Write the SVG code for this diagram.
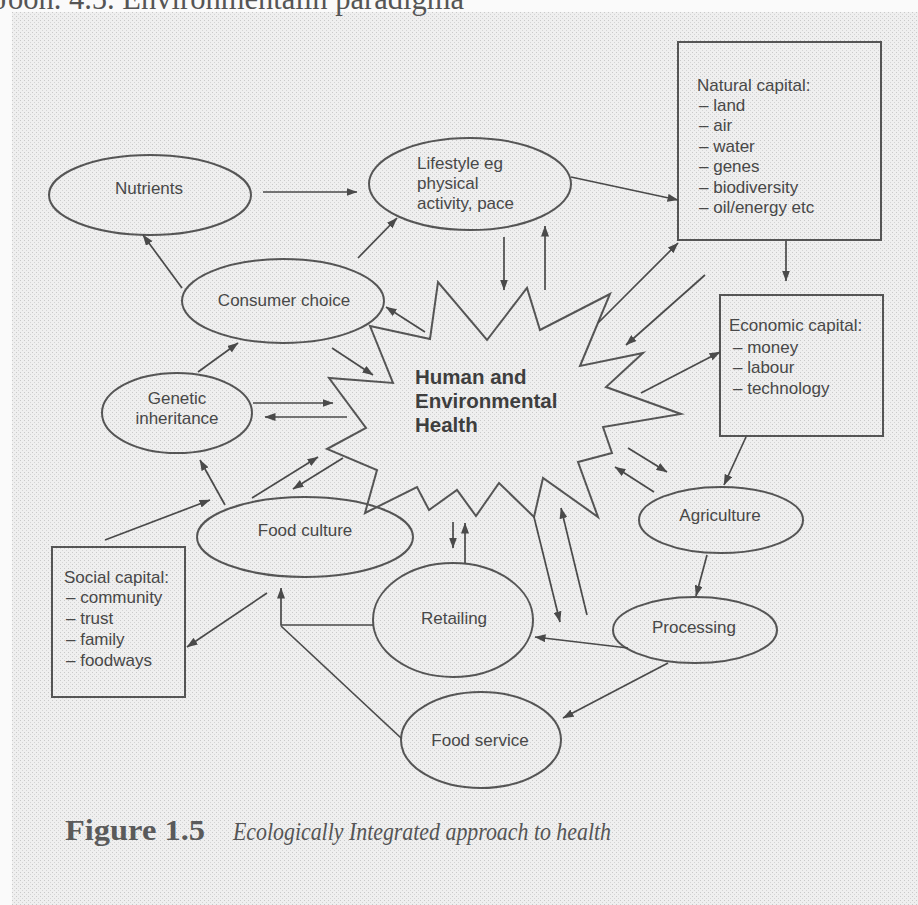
<svg xmlns="http://www.w3.org/2000/svg" width="918" height="905" viewBox="0 0 918 905">
  <defs>
    <pattern id="halftone" width="4" height="4" patternUnits="userSpaceOnUse">
      <rect width="4" height="4" fill="#efefef"/>
      <rect x="0" y="0" width="1" height="1" fill="#c9c9c9"/>
      <rect x="2" y="2" width="1" height="1" fill="#d4d4d4"/>
    </pattern>
    <marker id="ah" viewBox="0 0 11 8" refX="10.5" refY="4" markerWidth="11" markerHeight="8" markerUnits="userSpaceOnUse" orient="auto">
      <path d="M0,0 L11,4 L0,8 Z" fill="#4a4a4a"/>
    </marker>
    <style>
      .node { fill: none; stroke: #555; stroke-width: 2; }
      .lbl { font-family: "Liberation Sans", Arial, sans-serif; font-size: 17px; fill: #484848; }
      .mid { text-anchor: middle; }
      .big { font-family: "Liberation Sans", Arial, sans-serif; font-size: 20.5px; font-weight: bold; fill: #3e3e3e; }
      .con line, .con polyline { stroke: #4a4a4a; stroke-width: 1.7; fill: none; }
      .arr { marker-end: url(#ah); }
      .cap { font-family: "Liberation Serif", "Times New Roman", serif; fill: #555; }
    </style>
  </defs>

  <!-- page -->
  <rect width="918" height="905" fill="#fafafa"/>
  <rect x="12" y="12" width="906" height="893" fill="url(#halftone)"/>

  <!-- running head, cut off at the top edge -->
  <text class="cap" x="-4" y="9" font-size="32" textLength="468" lengthAdjust="spacingAndGlyphs" fill="#555">Joon. 4.5. Environmentalin paradigma</text>

  <!-- central starburst -->
  <g id="health">
    <polygon class="node" stroke-linejoin="miter" points="370,326 430,339 438,282 487,340 527,288 540,330 610,294 580,366 643,353 606,387 681,414 603,427 612,453 578,462 598,517 543,478 534,517 499,483 476,516 457,490 429,510 417,487 365,513 377,470 327,449 366,428 329,378 393,383"/>
    <text class="big" x="415" y="384">Human and</text>
    <text class="big" x="415" y="408">Environmental</text>
    <text class="big" x="415" y="432">Health</text>
  </g>

  <g id="nutrients">
    <ellipse class="node" cx="150" cy="195" rx="101" ry="40"/>
    <text class="lbl mid" x="149" y="194">Nutrients</text>
  </g>

  <g id="lifestyle">
    <ellipse class="node" cx="470" cy="184" rx="101" ry="46"/>
    <text class="lbl" x="417" y="169">Lifestyle eg</text>
    <text class="lbl" x="417" y="189">physical</text>
    <text class="lbl" x="417" y="209">activity, pace</text>
  </g>

  <g id="natural-capital">
    <rect class="node" x="678" y="42" width="203" height="198"/>
    <text class="lbl" x="697" y="91">Natural capital:</text>
    <text class="lbl" x="699" y="111">– land</text>
    <text class="lbl" x="699" y="131">– air</text>
    <text class="lbl" x="699" y="152">– water</text>
    <text class="lbl" x="699" y="172">– genes</text>
    <text class="lbl" x="699" y="193">– biodiversity</text>
    <text class="lbl" x="699" y="213">– oil/energy etc</text>
  </g>

  <g id="consumer-choice">
    <ellipse class="node" cx="283" cy="301" rx="101" ry="42"/>
    <text class="lbl mid" x="284" y="306">Consumer choice</text>
  </g>

  <g id="economic-capital">
    <rect class="node" x="720" y="295" width="163" height="141"/>
    <text class="lbl" x="729" y="331">Economic capital:</text>
    <text class="lbl" x="733" y="353">– money</text>
    <text class="lbl" x="733" y="373">– labour</text>
    <text class="lbl" x="733" y="394">– technology</text>
  </g>

  <g id="genetic-inheritance">
    <ellipse class="node" cx="177" cy="413" rx="75" ry="40"/>
    <text class="lbl mid" x="177" y="404">Genetic</text>
    <text class="lbl mid" x="177" y="424">inheritance</text>
  </g>

  <g id="food-culture">
    <ellipse class="node" cx="305" cy="537" rx="108" ry="40"/>
    <text class="lbl mid" x="305" y="536">Food culture</text>
  </g>

  <g id="social-capital">
    <rect class="node" x="52" y="547" width="133" height="150"/>
    <text class="lbl" x="64" y="583">Social capital:</text>
    <text class="lbl" x="66" y="603">– community</text>
    <text class="lbl" x="66" y="624">– trust</text>
    <text class="lbl" x="66" y="645">– family</text>
    <text class="lbl" x="66" y="666">– foodways</text>
  </g>

  <g id="agriculture">
    <ellipse class="node" cx="721" cy="520" rx="82" ry="33"/>
    <text class="lbl mid" x="720" y="521">Agriculture</text>
  </g>

  <g id="processing">
    <ellipse class="node" cx="695" cy="630" rx="82" ry="33"/>
    <text class="lbl mid" x="694" y="633">Processing</text>
  </g>

  <g id="retailing">
    <ellipse class="node" cx="453" cy="620" rx="80" ry="57"/>
    <text class="lbl mid" x="454" y="624">Retailing</text>
  </g>

  <g id="food-service">
    <ellipse class="node" cx="481" cy="740" rx="80" ry="48"/>
    <text class="lbl mid" x="480" y="746">Food service</text>
  </g>

  <!-- connectors -->
  <g id="connectors" class="con">
    <line class="arr" x1="263" y1="192" x2="357" y2="192"/>
    <line class="arr" x1="182" y1="288" x2="143" y2="235"/>
    <line class="arr" x1="358" y1="258" x2="397" y2="218"/>
    <line class="arr" x1="571" y1="177" x2="678" y2="200"/>
    <line class="arr" x1="504" y1="237" x2="504" y2="290"/>
    <line class="arr" x1="545" y1="290" x2="545" y2="226"/>
    <line class="arr" x1="425" y1="332" x2="386" y2="307"/>
    <line class="arr" x1="332" y1="348" x2="373" y2="375"/>
    <line class="arr" x1="253" y1="403" x2="333" y2="403"/>
    <line class="arr" x1="347" y1="417" x2="265" y2="417"/>
    <line class="arr" x1="198" y1="372" x2="238" y2="343"/>
    <line class="arr" x1="598" y1="323" x2="678" y2="243"/>
    <line class="arr" x1="705" y1="275" x2="626" y2="345"/>
    <line class="arr" x1="786" y1="241" x2="786" y2="281"/>
    <line class="arr" x1="641" y1="393" x2="720" y2="352"/>
    <line class="arr" x1="746" y1="437" x2="724" y2="485"/>
    <line class="arr" x1="628" y1="448" x2="667" y2="472"/>
    <line class="arr" x1="654" y1="492" x2="615" y2="467"/>
    <line class="arr" x1="707" y1="555" x2="696" y2="596"/>
    <line class="arr" x1="628" y1="648" x2="535" y2="637"/>
    <line class="arr" x1="668" y1="663" x2="563" y2="718"/>
    <line class="arr" x1="534" y1="517" x2="560" y2="622"/>
    <line class="arr" x1="587" y1="615" x2="561" y2="508"/>
    <line class="arr" x1="453" y1="522" x2="453" y2="548"/>
    <line class="arr" x1="465" y1="563" x2="465" y2="523"/>
    <line class="arr" x1="225" y1="505" x2="200" y2="460"/>
    <line class="arr" x1="105" y1="540" x2="210" y2="500"/>
    <line class="arr" x1="252" y1="498" x2="318" y2="457"/>
    <line class="arr" x1="343" y1="458" x2="293" y2="489"/>
    <line class="arr" x1="267" y1="593" x2="187" y2="647"/>
    <polyline class="arr" points="373,625 281,625 281,588"/>
    <line x1="401" y1="738" x2="281" y2="626"/>
  </g>

  <!-- caption -->
  <text class="cap" y="840" font-size="26">
    <tspan x="65" font-size="29" font-weight="bold" fill="#5a5a5a" textLength="140" lengthAdjust="spacingAndGlyphs">Figure 1.5</tspan>
    <tspan x="233" font-style="italic" fill="#555" textLength="378" lengthAdjust="spacingAndGlyphs">Ecologically Integrated approach to health</tspan>
  </text>
</svg>
